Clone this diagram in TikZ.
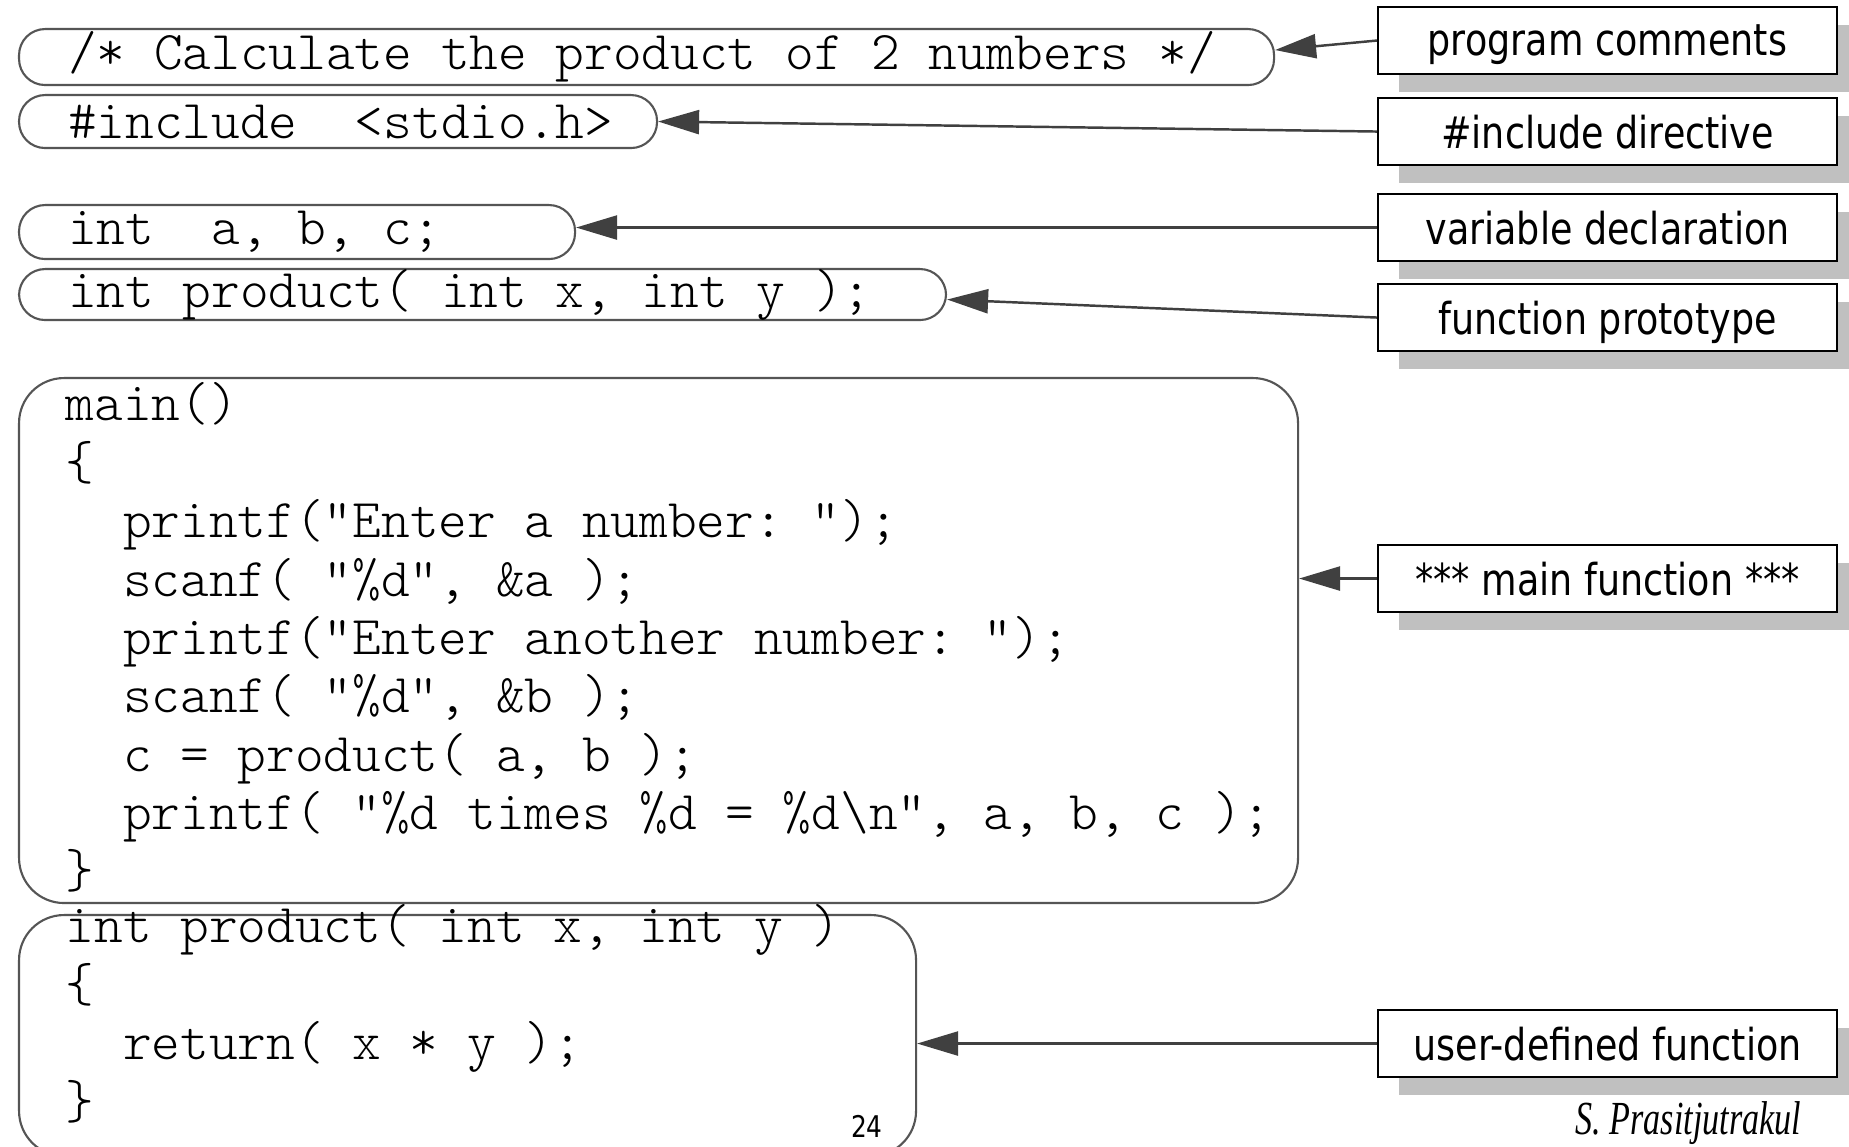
\documentclass[tikz,border=0pt]{standalone}
\usepackage{fontspec}
\usetikzlibrary{arrows.meta, positioning, shadows}
\newfontfamily\monolight[Ligatures=TeXOff]{lmmonolt10-regular.otf}
\newfontfamily\tagfont[FakeStretch=0.83]{DejaVu Sans}
\newfontfamily\signfont[FakeStretch=0.72]{Liberation Serif}
\definecolor{linegray}{HTML}{555555}
\definecolor{arrowgray}{HTML}{404040}
\definecolor{shadowgray}{HTML}{C0C0C0}
\protected\def\codefont{\monolight\fontsize{15.55}{16.6}\selectfont\frenchspacing}
\newcommand{\codeindent}{\hspace*{1.05em}}

\begin{document}
\begin{tikzpicture}[code/.style = {font=\codefont, align=flush left},
  oval/.style = {code, draw=linegray, line width=0.6pt, rounded corners=0.26cm, inner xsep=0.49cm, inner ysep=0pt, anchor=north west},
  codebox/.style = {draw=linegray, line width=0.6pt, rounded corners=0.45cm, inner sep=0pt, anchor=north west},
  listing/.style = {code, inner sep=0pt, text width=16cm, anchor=base west},
  tag/.style = {draw, line width=0.6pt, fill=white, minimum width=4.59cm, minimum height=0.67cm, inner sep=0pt, anchor=north west, text depth=0pt,
    font=\tagfont\fontsize{12.5}{15}\selectfont, drop shadow={shadow xshift=0.21cm, shadow yshift=-0.18cm, fill=shadowgray, opacity=1}},
  pointer/.style = {draw=arrowgray, line width=0.7pt, -{Triangle[length=0.41cm, width=0.24cm]}}]
           \path[use as bounding box, fill=white] (0,0) rectangle (18.49,-11.47);
           \clip (0,0) rectangle (18.49,-11.47);

           \node[oval, text width=11.57cm, minimum height=0.56cm] (cmt) at (0.18,-0.28) {\mbox{/* Calculate the product of 2 numbers */}};
           \node[oval, text width=5.40cm, minimum height=0.53cm] (incl) at (0.18,-0.94) {\mbox{\#include\ \ <stdio.h>}};
           \node[oval, text width=4.58cm, minimum height=0.54cm] (vars) at (0.18,-2.04) {\mbox{int\ \ a, b, c;}};
           \node[oval, text width=8.29cm, minimum height=0.50cm] (proto) at (0.18,-2.68) {\mbox{int product( int x, int y );}};

           \node[codebox, minimum width=12.79cm, minimum height=5.25cm] (mainbox) at (0.18,-3.77) {};
           \node[listing] (maincode) at (0.65,-4.21) {main()\\
             \{\\
             \codeindent printf("Enter a number: ");\\
             \codeindent scanf( "\%d", \&a );\\
             \codeindent printf("Enter another number: ");\\
             \codeindent scanf( "\%d", \&b );\\
             \codeindent c = product( a, b );\\
             \codeindent printf( "\%d times \%d = \%d\textbackslash n", a, b, c );\\
             \}};

           \node[codebox, minimum width=8.97cm, minimum height=2.41cm] (prodbox) at (0.18,-9.14) {};
           \node[listing] (prodcode) at (0.65,-9.43) {int product( int x, int y )\\
             \{\\
             \codeindent return( x * y );\\
             \}};

           \node[tag] (comments) at (13.77,-0.06) {program comments};
           \node[tag] (directive) at (13.77,-0.97) {\#include directive};
           \node[tag] (declare) at (13.77,-1.93) {variable declaration};
           \node[tag] (prototype) at (13.77,-2.83) {function prototype};
           \node[tag] (mainfn) at (13.77,-5.44) {*** main function ***};
           \node[tag] (userfn) at (13.77,-10.09) {user-defined function};

           \draw[pointer] (comments.west) -- ([yshift=0.07cm]cmt.east);
           \draw[pointer] (directive.west) -- (incl.east);
           \draw[pointer] (declare.west) -- (declare.west -| vars.east);
           \draw[pointer] (prototype.west) -- ([yshift=-0.05cm]proto.east);
           \draw[pointer] (mainfn.west) -- (mainfn.west -| mainbox.east);
           \draw[pointer] (userfn.west) -- (userfn.west -| prodbox.east);

           \node[font=\tagfont\fontsize{8.5}{10}\selectfont, inner sep=0pt] (page) at (8.67,-11.26) {24};
           \node[font=\signfont\itshape\fontsize{13.5}{16}\selectfont, inner sep=0pt, anchor=base east] (author) at (18.02,-11.35) {S. Prasitjutrakul};
         \end{tikzpicture}
\end{document}
